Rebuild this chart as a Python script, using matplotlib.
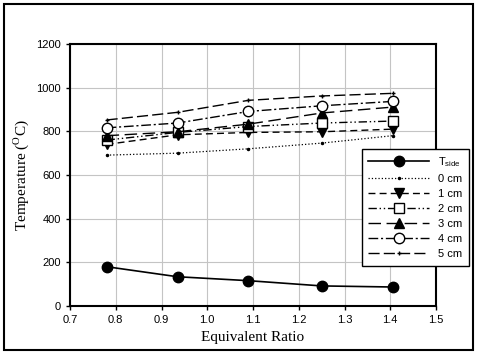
import matplotlib.pyplot as plt
from matplotlib.patches import Rectangle

# equivalent ratio and temperatures
ratio = [0.78, 0.935, 1.09, 1.25, 1.405]
t_side = [180, 134, 116, 92, 87]
t_0cm = [691, 700, 720, 746, 780]
t_1cm = [740, 784, 795, 798, 810]
t_2cm = [760, 795, 822, 838, 847]
t_3cm = [780, 798, 833, 884, 911]
t_4cm = [816, 838, 891, 917, 937]
t_5cm = [852, 887, 942, 962, 974]

plt.rcParams['font.family'] = ['Liberation Sans', 'DejaVu Sans']

fig = plt.figure(figsize=(4.8, 3.57), dpi=100)
ax = fig.add_axes([70 / 480, 1 - 306 / 357, 366 / 480, 262 / 357])

ax.plot(ratio, t_side, '-', color='black', lw=1.2, marker='o', ms=7.5,
        label=r'T$_{\mathregular{side}}$')
ax.plot(ratio, t_0cm, ':', color='black', lw=0.9, marker='.', ms=3, label='0 cm')
ax.plot(ratio, t_1cm, color='black', lw=1.0, ls=(0, (5, 3)), marker='v', ms=6.5,
        label='1 cm')
ax.plot(ratio, t_2cm, color='black', lw=1.0, ls=(0, (6, 2, 1, 2, 1, 2)), marker='s',
        ms=6.5, mfc='white', label='2 cm')
ax.plot(ratio, t_3cm, color='black', lw=1.0, ls=(0, (9, 4)), marker='^', ms=6.5,
        label='3 cm')
ax.plot(ratio, t_4cm, color='black', lw=1.0, ls=(0, (7, 2, 1.5, 2)), marker='o', ms=7.5,
        mfc='white', label='4 cm')
ax.plot(ratio, t_5cm, color='black', lw=1.0, ls=(0, (8, 3)), marker='+', ms=3.5,
        label='5 cm')

ax.set_xlim(0.7, 1.5)
ax.set_ylim(0, 1200)
ax.set_xticks([0.7, 0.8, 0.9, 1.0, 1.1, 1.2, 1.3, 1.4, 1.5])
ax.set_yticks(range(0, 1201, 200))
ax.tick_params(labelsize=8, length=3, width=1)
ax.grid(True, color='#c4c4c4', lw=0.8)
for s in ax.spines.values():
    s.set_linewidth(1.5)

ax.set_xlabel('Equivalent Ratio', family='Liberation Serif', fontsize=11)
ax.set_ylabel(r'Temperature ($^{\mathregular{O}}$C)', family='Liberation Serif',
              fontsize=11)

leg = ax.legend(loc='upper left', bbox_to_anchor=(356 / 480, 1 - 143 / 357),
                bbox_transform=fig.transFigure, fontsize=8, handlelength=5.5,
                markerfirst=True, fancybox=False, framealpha=1, edgecolor='black',
                borderpad=0.6, labelspacing=0.45)
leg.get_frame().set_linewidth(1.0)

fig.patches.append(Rectangle((4 / 480, 1 - 350 / 357), 469 / 480, 346 / 357,
                             transform=fig.transFigure, fill=False,
                             edgecolor='black', lw=1.5))

fig.savefig('out.png', dpi=100)
